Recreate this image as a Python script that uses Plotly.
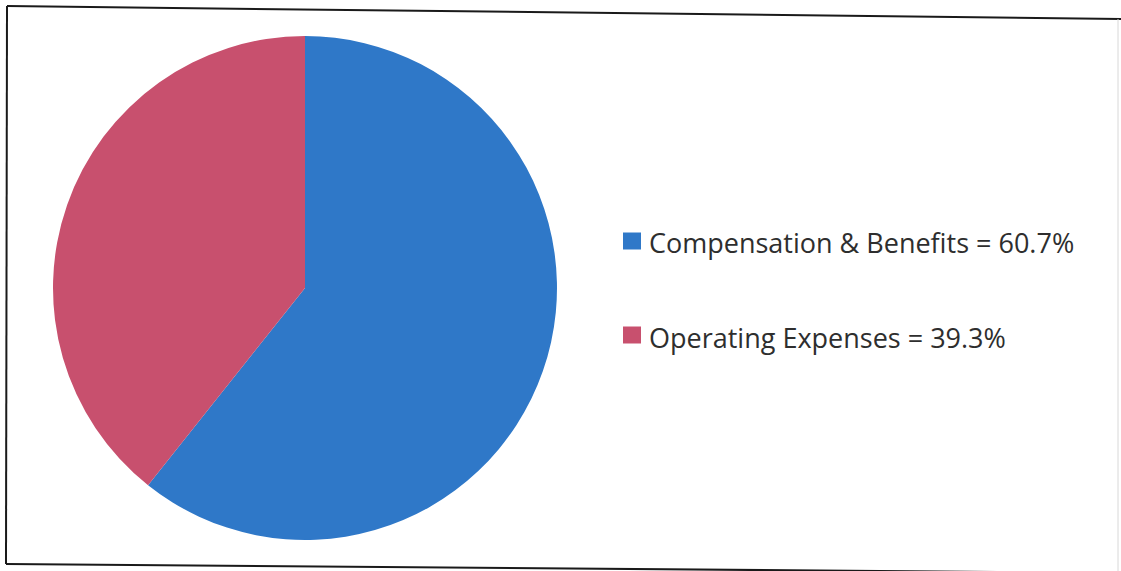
import plotly.graph_objects as go

labels = ["Compensation & Benefits", "Operating Expenses"]
values = [60.7, 39.3]
colors = ["#2f78c8", "#c8506e"]

W, H = 1121, 571


def px(x):
    return x / W


def py(y):
    return 1 - y / H


fig = go.Figure(
    go.Pie(
        labels=labels,
        values=values,
        sort=False,
        direction="clockwise",
        rotation=0,
        textinfo="none",
        hoverinfo="label+percent",
        marker=dict(colors=colors, line=dict(width=0)),
        domain=dict(x=[px(305 - 252), px(305 + 252)], y=[py(288 + 252), py(288 - 252)]),
        showlegend=False,
    )
)

shapes = []
annotations = []

# legend: square swatch plus "label = value%" text
legend_rows = [241, 335]
for lab, val, col, yc in zip(labels, values, colors, legend_rows):
    shapes.append(
        dict(
            type="rect", xref="paper", yref="paper",
            x0=px(623), x1=px(641), y0=py(yc - 8.5), y1=py(yc + 8.5),
            fillcolor=col, line=dict(width=0),
        )
    )
    annotations.append(
        dict(
            xref="paper", yref="paper", x=px(647), y=py(yc + 2),
            xanchor="left", yanchor="middle", showarrow=False,
            text=f"{lab} = {val}%",
            font=dict(family="Open Sans", size=27, color="#2e2e2e"),
        )
    )

# outer frame of the chart area
frame = dict(color="#1a1a1a", width=2)
shapes += [
    dict(type="line", xref="paper", yref="paper", x0=px(7), y0=py(6), x1=px(1121), y1=py(19), line=frame),
    dict(type="line", xref="paper", yref="paper", x0=px(7), y0=py(6), x1=px(6), y1=py(564), line=frame),
    dict(type="line", xref="paper", yref="paper", x0=px(6), y0=py(564), x1=px(1121), y1=py(573), line=frame),
    dict(type="line", xref="paper", yref="paper", x0=px(1118), y0=py(19), x1=px(1118), y1=py(571),
         line=dict(color="#d8d8d8", width=1)),
]

fig.update_layout(
    width=W,
    height=H,
    margin=dict(l=0, r=0, t=0, b=0),
    paper_bgcolor="white",
    plot_bgcolor="white",
    shapes=shapes,
    annotations=annotations,
)

fig.write_html("out.html")
